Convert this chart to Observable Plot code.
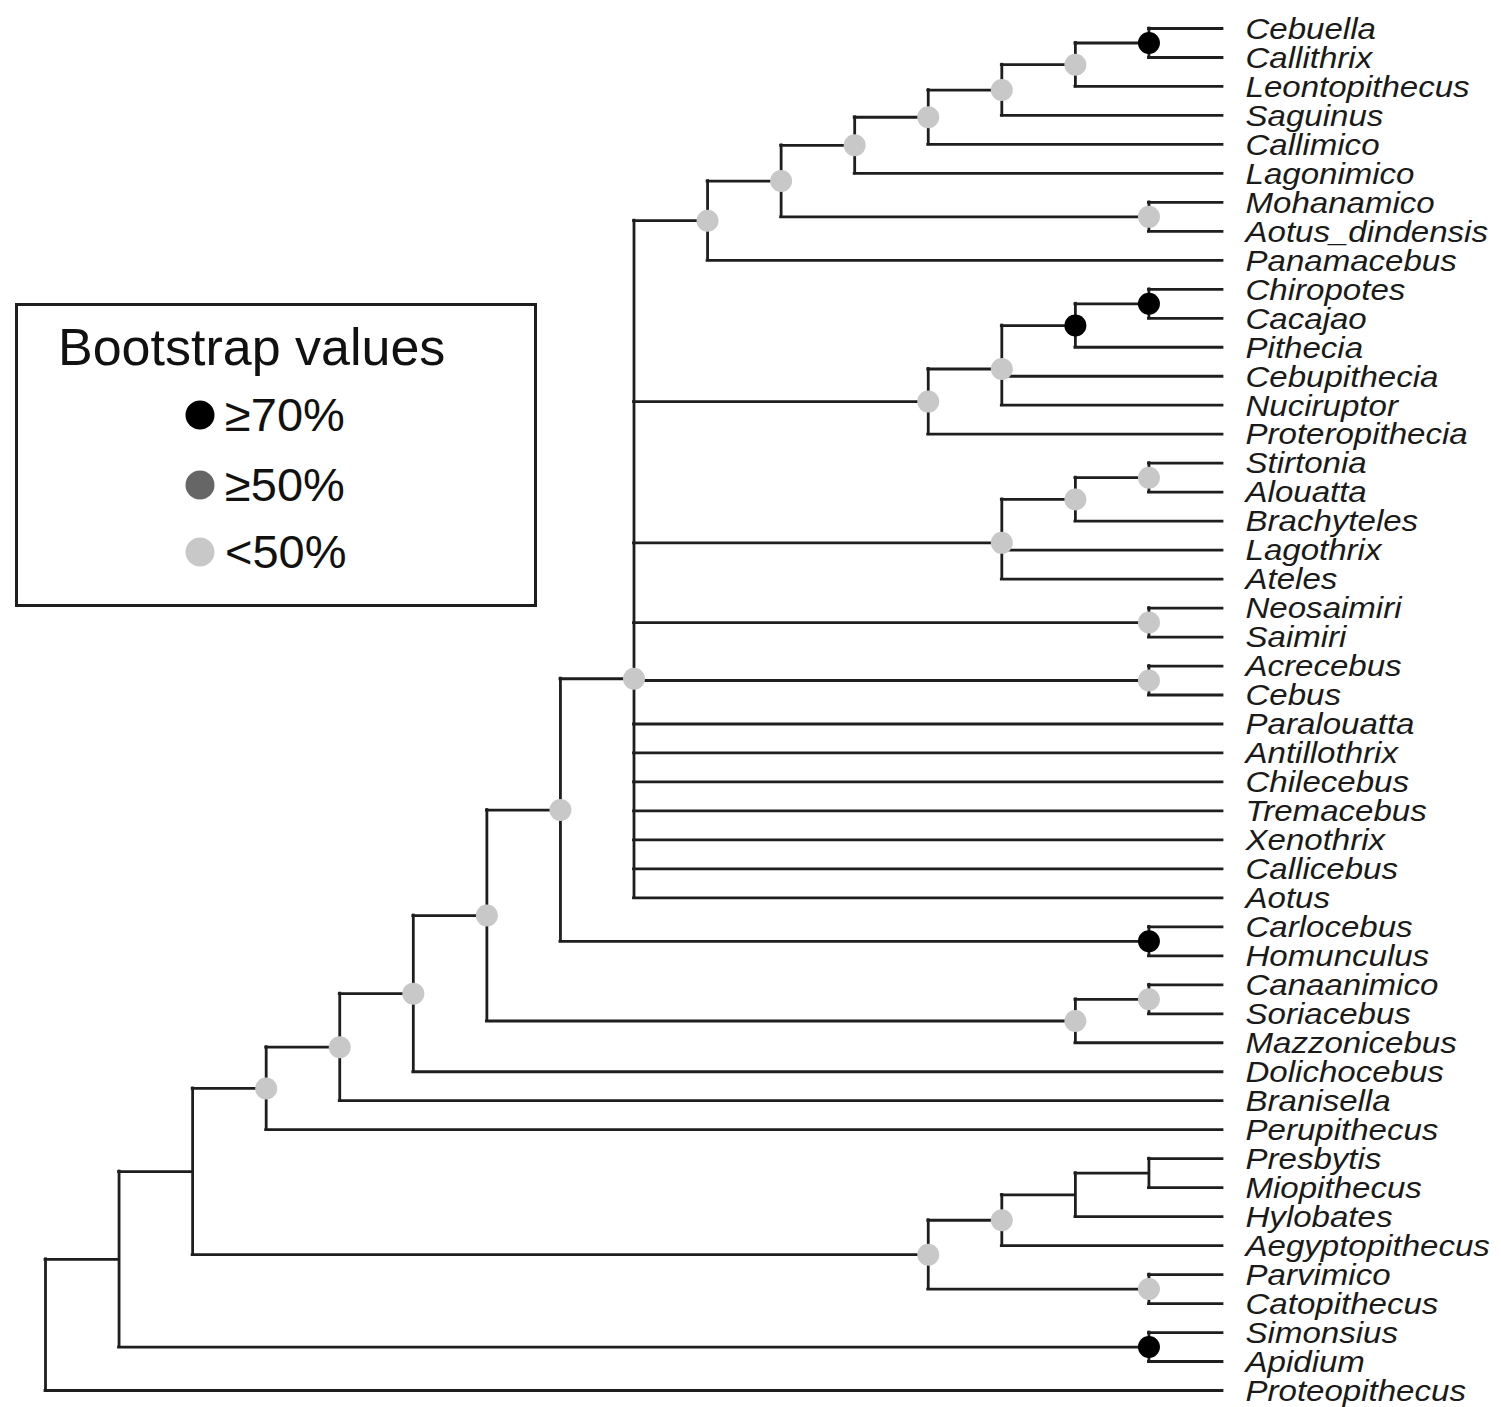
<!DOCTYPE html>
<html>
<head>
<meta charset="utf-8">
<script src="https://cdn.jsdelivr.net/npm/d3@7"></script>
<script src="https://cdn.jsdelivr.net/npm/@observablehq/plot@0.6"></script>
<style>
  html, body { margin: 0; padding: 0; background: #fff; }
  #wrap { position: relative; width: 1501px; height: 1407px; font-family: "Liberation Sans", Arial, sans-serif; }
  #legend { position: absolute; left: 15px; top: 303px; }
</style>
</head>
<body>
<div id="wrap"></div>
<script>
// Leaf order (top to bottom)
const taxa = ["Cebuella","Callithrix","Leontopithecus","Saguinus","Callimico","Lagonimico",
  "Mohanamico","Aotus_dindensis","Panamacebus","Chiropotes","Cacajao","Pithecia","Cebupithecia",
  "Nuciruptor","Proteropithecia","Stirtonia","Alouatta","Brachyteles","Lagothrix","Ateles",
  "Neosaimiri","Saimiri","Acrecebus","Cebus","Paralouatta","Antillothrix","Chilecebus",
  "Tremacebus","Xenothrix","Callicebus","Aotus","Carlocebus","Homunculus","Canaanimico",
  "Soriacebus","Mazzonicebus","Dolichocebus","Branisella","Perupithecus","Presbytis",
  "Miopithecus","Hylobates","Aegyptopithecus","Parvimico","Catopithecus","Simonsius","Apidium",
  "Proteopithecus"];

// Clades: [id, children, bootstrap class]
const clades = [
  ["root", ["n1","Proteopithecus"], null],
  ["n1", ["n2","nSA"], null],
  ["nSA", ["Simonsius","Apidium"], "≥70%"],
  ["n2", ["n3","nCat"], null],
  ["nCat", ["nE","nF"], "<50%"],
  ["nE", ["nG","Aegyptopithecus"], "<50%"],
  ["nG", ["nH","Hylobates"], null],
  ["nH", ["Presbytis","Miopithecus"], null],
  ["nF", ["Parvimico","Catopithecus"], "<50%"],
  ["n3", ["n4","Perupithecus"], "<50%"],
  ["n4", ["n5","Branisella"], "<50%"],
  ["n5", ["n6","Dolichocebus"], "<50%"],
  ["n6", ["n7","nM"], "<50%"],
  ["nM", ["nN","Mazzonicebus"], "<50%"],
  ["nN", ["Canaanimico","Soriacebus"], "<50%"],
  ["n7", ["n8","nP"], "<50%"],
  ["nP", ["Carlocebus","Homunculus"], "≥70%"],
  ["n8", ["nQ","nR","nS","nT","nU","Paralouatta","Antillothrix","Chilecebus","Tremacebus","Xenothrix","Callicebus","Aotus"], "<50%"],
  ["nQ", ["nV","Panamacebus"], "<50%"],
  ["nV", ["nW","nX"], "<50%"],
  ["nX", ["Mohanamico","Aotus_dindensis"], "<50%"],
  ["nW", ["nY","Lagonimico"], "<50%"],
  ["nY", ["nZ","Callimico"], "<50%"],
  ["nZ", ["nAA","Saguinus"], "<50%"],
  ["nAA", ["nBB","Leontopithecus"], "<50%"],
  ["nBB", ["Cebuella","Callithrix"], "≥70%"],
  ["nR", ["nCC","Proteropithecia"], "<50%"],
  ["nCC", ["nDD","Cebupithecia","Nuciruptor"], "<50%"],
  ["nDD", ["nEE","Pithecia"], "≥70%"],
  ["nEE", ["Chiropotes","Cacajao"], "≥70%"],
  ["nS", ["nFF","Lagothrix","Ateles"], "<50%"],
  ["nFF", ["nGG","Brachyteles"], "<50%"],
  ["nGG", ["Stirtonia","Alouatta"], "<50%"],
  ["nT", ["Neosaimiri","Saimiri"], "<50%"],
  ["nU", ["Acrecebus","Cebus"], "<50%"]
];

const supportClasses = ["≥70%", "≥50%", "<50%"];
const supportColors = ["#000000", "#666666", "#c8c8c8"];

// ---- layout from topology (cladogram) ----
const kids = new Map(clades.map(c => [c[0], c[1]]));
const hMemo = new Map();
function height(n) {
  if (!kids.has(n)) return 0;
  if (!hMemo.has(n)) hMemo.set(n, 1 + d3.max(kids.get(n), height));
  return hMemo.get(n);
}
const H = height("root");
const xOf = n => H - height(n);
const yMemo = new Map();
function yOf(n) {
  if (!kids.has(n)) return taxa.indexOf(n);
  if (!yMemo.has(n)) yMemo.set(n, d3.mean(kids.get(n), yOf));
  return yMemo.get(n);
}

const horiz = [];
const vert = [];
const nodes = [];
for (const [id, ch, sup] of clades) {
  for (const c of ch) horiz.push({x1: xOf(id), x2: xOf(c), y: yOf(c)});
  vert.push({x: xOf(id), y1: yOf(ch[0]), y2: yOf(ch[ch.length - 1])});
  if (sup) nodes.push({x: xOf(id), y: yOf(id), support: sup});
}
const leaves = taxa.map((t, i) => ({name: t, x: H, y: i}));

const lineStyle = {stroke: "#1e1e1e", strokeWidth: 2.8, strokeLinecap: "square"};

const plot = Plot.plot({
  width: 1501,
  height: 1407,
  marginLeft: 45,
  marginRight: 279,
  marginTop: 28,
  marginBottom: 17,
  x: {domain: [0, H], axis: null},
  y: {domain: [0, taxa.length - 1], reverse: true, axis: null},
  color: {domain: supportClasses, range: supportColors},
  style: {background: "#fff", fontFamily: "'Liberation Sans', Arial, sans-serif"},
  marks: [
    Plot.ruleY(horiz, {y: "y", x1: "x1", x2: "x2", ...lineStyle}),
    Plot.ruleX(vert, {x: "x", y1: "y1", y2: "y2", ...lineStyle}),
    Plot.dot(nodes, {x: "x", y: "y", fill: "support", r: 11, stroke: "none"}),
    Plot.text(leaves, {x: "x", y: "y", text: "name", textAnchor: "start", dx: 23, dy: 1,
      fontSize: 29, fontStyle: "italic", fill: "#1a1a1a"})
  ]
});

// stretch leaf labels horizontally like the original
d3.select(plot).selectAll("g[aria-label='text'] text").each(function() {
  const tr = this.getAttribute("transform");
  if (tr) this.setAttribute("transform", tr + " scale(1.14,1)");
});

const wrap = document.getElementById("wrap");
wrap.appendChild(plot);

// ---- legend (inside plot area, top-left) ----
const color = plot.scale("color");
const lg = d3.select(wrap).append("svg")
  .attr("id", "legend")
  .attr("width", 523).attr("height", 305)
  .style("font-family", "'Liberation Sans', Arial, sans-serif");
lg.append("rect").attr("x", 1.5).attr("y", 1.5).attr("width", 519).attr("height", 301)
  .attr("fill", "#fff").attr("stroke", "#1e1e1e").attr("stroke-width", 3);
lg.append("text").attr("x", 43).attr("y", 62).attr("font-size", 52).attr("fill", "#111")
  .text("Bootstrap values");
const rows = [112, 182, 249];
color.domain.forEach((d, i) => {
  lg.append("circle").attr("cx", 185).attr("cy", rows[i]).attr("r", 14.5).attr("fill", color.range[i]);
  lg.append("text").attr("x", 210).attr("y", rows[i] + 16).attr("font-size", 47).attr("fill", "#111").text(d);
});
</script>
</body>
</html>
